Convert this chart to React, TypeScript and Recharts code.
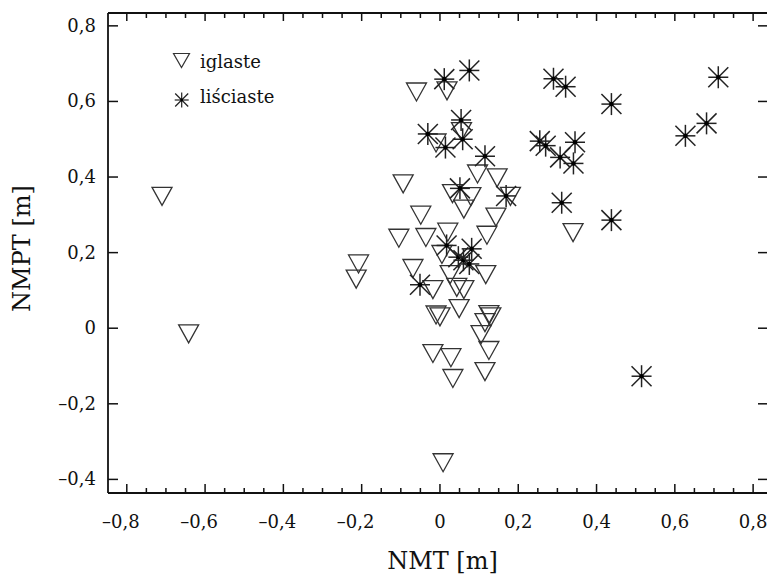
import React from 'react';
import { ScatterChart, Scatter, XAxis, YAxis, Legend } from 'recharts';

const FONT = "'DejaVu Serif', 'Liberation Serif', 'Noto Serif', serif";
const INK = '#111';
const TXT = { fontFamily: FONT };

// iglaste (triangles)
const iglaste = [
  { x: -0.71, y: 0.349 }, { x: -0.642, y: -0.015 }, { x: -0.208, y: 0.17 }, { x: -0.214, y: 0.13 },
  { x: -0.06, y: 0.625 }, { x: 0.018, y: 0.628 },
  { x: -0.01, y: 0.49 }, { x: 0.055, y: 0.52 },
  { x: -0.094, y: 0.382 }, { x: 0.096, y: 0.408 }, { x: 0.146, y: 0.398 },
  { x: 0.032, y: 0.356 }, { x: 0.079, y: 0.348 }, { x: 0.061, y: 0.315 }, { x: 0.18, y: 0.349 },
  { x: -0.049, y: 0.299 }, { x: 0.143, y: 0.294 },
  { x: -0.105, y: 0.238 }, { x: -0.036, y: 0.24 }, { x: 0.02, y: 0.254 }, { x: 0.12, y: 0.246 },
  { x: 0.34, y: 0.253 },
  { x: 0.005, y: 0.195 }, { x: -0.069, y: 0.158 }, { x: 0.117, y: 0.142 }, { x: 0.026, y: 0.142 },
  { x: 0.043, y: 0.108 }, { x: 0.061, y: 0.102 }, { x: -0.018, y: 0.102 }, { x: 0.049, y: 0.052 },
  { x: -0.01, y: 0.035 }, { x: 0.0, y: 0.03 }, { x: 0.125, y: 0.036 }, { x: 0.115, y: 0.015 },
  { x: 0.105, y: -0.017 }, { x: 0.13, y: 0.03 },
  { x: 0.125, y: -0.059 }, { x: -0.018, y: -0.067 }, { x: 0.028, y: -0.078 }, { x: 0.033, y: -0.133 },
  { x: 0.115, y: -0.115 }, { x: 0.008, y: -0.356 },
];

// liściaste (asterisks)
const lisciaste = [
  { x: 0.075, y: 0.682 }, { x: 0.011, y: 0.659 }, { x: 0.054, y: 0.551 }, { x: -0.031, y: 0.514 },
  { x: 0.058, y: 0.5 }, { x: 0.014, y: 0.478 }, { x: 0.115, y: 0.455 }, { x: 0.051, y: 0.37 },
  { x: 0.169, y: 0.35 }, { x: 0.017, y: 0.219 }, { x: 0.081, y: 0.21 }, { x: 0.047, y: 0.188 },
  { x: 0.06, y: 0.18 }, { x: 0.075, y: 0.17 }, { x: -0.051, y: 0.115 },
  { x: 0.29, y: 0.66 }, { x: 0.321, y: 0.639 }, { x: 0.438, y: 0.593 }, { x: 0.711, y: 0.664 },
  { x: 0.681, y: 0.542 }, { x: 0.627, y: 0.509 }, { x: 0.255, y: 0.495 }, { x: 0.27, y: 0.483 },
  { x: 0.345, y: 0.492 }, { x: 0.307, y: 0.452 }, { x: 0.341, y: 0.436 }, { x: 0.311, y: 0.332 },
  { x: 0.438, y: 0.286 }, { x: 0.515, y: -0.127 },
];

const xTicks = [
  -0.8, -0.75, -0.7, -0.65, -0.6, -0.55, -0.5, -0.45, -0.4, -0.35, -0.3, -0.25, -0.2, -0.15, -0.1, -0.05,
  0, 0.05, 0.1, 0.15, 0.2, 0.25, 0.3, 0.35, 0.4, 0.45, 0.5, 0.55, 0.6, 0.65, 0.7, 0.75, 0.8,
];
const yTicks = [-0.4, -0.2, 0, 0.2, 0.4, 0.6, 0.8];
const xDomain: [number, number] = [-0.848, 0.838];
const yDomain: [number, number] = [-0.436, 0.834];

const seriesNames = ['iglaste', 'liściaste'];
const axisTitles = { x: 'NMT [m]', y: 'NMPT [m]' };

const isMajor = (v: number) => Math.abs(v * 5 - Math.round(v * 5)) < 1e-6;
const fmt = (v: number) => {
  const r = Math.round(v * 10) / 10;
  if (r === 0) return '0';
  const s = Math.abs(r).toFixed(1).replace('.', ',');
  return r < 0 ? '–' + s : s;
};

const BottomTick = (props: any) => {
  const { x, y, payload } = props;
  const v = payload.value;
  const major = isMajor(v);
  return (
    <g>
      <line x1={x} x2={x} y1={y} y2={y - (major ? 9 : 5)} stroke={INK} strokeWidth={1.5} />
      {major && (
        <text x={x} y={y + 35} dx={v < 0 ? -6 : 0} textAnchor="middle" fontSize={18} style={TXT} fill={INK}>
          {fmt(v)}
        </text>
      )}
    </g>
  );
};

const TopTick = (props: any) => {
  const { x, y, payload } = props;
  const major = isMajor(payload.value);
  return <line x1={x} x2={x} y1={y} y2={y + (major ? 8 : 5)} stroke={INK} strokeWidth={1.5} />;
};

const LeftTick = (props: any) => {
  const { x, y, payload } = props;
  return (
    <g>
      <line x1={x} x2={x + 10} y1={y} y2={y} stroke={INK} strokeWidth={1.5} />
      <text x={x - 12} y={y + 6} textAnchor="end" fontSize={18} style={TXT} fill={INK}>
        {fmt(payload.value)}
      </text>
    </g>
  );
};

const RightTick = (props: any) => {
  const { x, y } = props;
  return <line x1={x} x2={x - 10} y1={y} y2={y} stroke={INK} strokeWidth={1.5} />;
};

const DownTriangle = ({ cx, cy, w = 20, h = 18, sw = 1.3 }: any) => (
  <polygon
    points={`${cx - w / 2},${cy - h / 2} ${cx + w / 2},${cy - h / 2} ${cx},${cy + h / 2}`}
    fill="none"
    stroke="#333"
    strokeWidth={sw}
  />
);

const Asterisk = ({ cx, cy, rx = 10, ry = 11, d = 10, dot = 2.3, sw = 1.5 }: any) => (
  <g stroke="#222" strokeWidth={sw}>
    <line x1={cx} x2={cx} y1={cy - ry} y2={cy + ry} />
    <line x1={cx - rx} x2={cx + rx} y1={cy} y2={cy} />
    <line x1={cx - d} x2={cx + d} y1={cy - d} y2={cy + d} />
    <line x1={cx - d} x2={cx + d} y1={cy + d} y2={cy - d} />
    <circle cx={cx} cy={cy} r={dot} fill="#000" stroke="none" />
  </g>
);

const LegendContent = () => (
  <svg width={130} height={72} style={{ display: 'block' }}>
    <DownTriangle cx={13.5} cy={17.5} w={16} h={14} sw={1.2} />
    <text x={32} y={25} fontSize={18} style={TXT} fill={INK}>{seriesNames[0]}</text>
    <Asterisk cx={13.7} cy={57} rx={7} ry={7.5} d={6.5} dot={1.4} sw={1.2} />
    <text x={32} y={60} fontSize={18} style={TXT} fill={INK}>{seriesNames[1]}</text>
  </svg>
);

export default function App() {
  return (
    <div style={{ position: 'absolute', left: 8, top: 8, width: 759, height: 570, overflow: 'hidden', background: '#fff', fontFamily: FONT }}>
      <ScatterChart width={780} height={570} margin={{ top: 4, right: 10, bottom: 25, left: 10 }} style={TXT}>
        <XAxis
          type="number"
          dataKey="x"
          domain={xDomain}
          ticks={xTicks}
          interval={0}
          allowDataOverflow
          height={60}
          tickSize={0}
          tickMargin={0}
          tickLine={false}
          axisLine={{ stroke: INK, strokeWidth: 1.8 }}
          tick={<BottomTick />}
          label={() => (
            <text x={434.5} y={561} textAnchor="middle" fontSize={24} style={TXT} fill={INK}>
              {axisTitles.x}
            </text>
          )}
        />
        <XAxis
          xAxisId="top"
          orientation="top"
          type="number"
          dataKey="x"
          domain={xDomain}
          ticks={xTicks}
          interval={0}
          allowDataOverflow
          height={1}
          tickSize={0}
          tickMargin={0}
          tickLine={false}
          axisLine={{ stroke: INK, strokeWidth: 1.8 }}
          tick={<TopTick />}
        />
        <YAxis
          type="number"
          dataKey="y"
          domain={yDomain}
          ticks={yTicks}
          interval={0}
          allowDataOverflow
          width={90}
          tickSize={0}
          tickMargin={0}
          tickLine={false}
          axisLine={{ stroke: INK, strokeWidth: 1.8 }}
          tick={<LeftTick />}
          label={() => (
            <text
              x={22}
              y={240.5}
              transform="rotate(-90 22 240.5)"
              textAnchor="middle"
              fontSize={24}
              style={TXT}
              fill={INK}
            >
              {axisTitles.y}
            </text>
          )}
        />
        <YAxis
          yAxisId="right"
          orientation="right"
          type="number"
          dataKey="y"
          domain={yDomain}
          ticks={yTicks}
          interval={0}
          allowDataOverflow
          width={10}
          tickSize={0}
          tickMargin={0}
          tickLine={false}
          axisLine={{ stroke: INK, strokeWidth: 1.8 }}
          tick={<RightTick />}
        />
        <Legend
          layout="vertical"
          align="center"
          verticalAlign="middle"
          content={<LegendContent />}
          wrapperStyle={{ left: 160, top: 35, width: 130, height: 72 }}
        />
        <Scatter
          name={seriesNames[0]}
          data={iglaste}
          isAnimationActive={false}
          shape={(p: any) => <DownTriangle cx={p.cx} cy={p.cy} />}
        />
        <Scatter
          name={seriesNames[1]}
          data={lisciaste}
          isAnimationActive={false}
          shape={(p: any) => <Asterisk cx={p.cx} cy={p.cy} />}
        />
        <Scatter xAxisId="top" yAxisId="right" data={[]} isAnimationActive={false} />
      </ScatterChart>
    </div>
  );
}
